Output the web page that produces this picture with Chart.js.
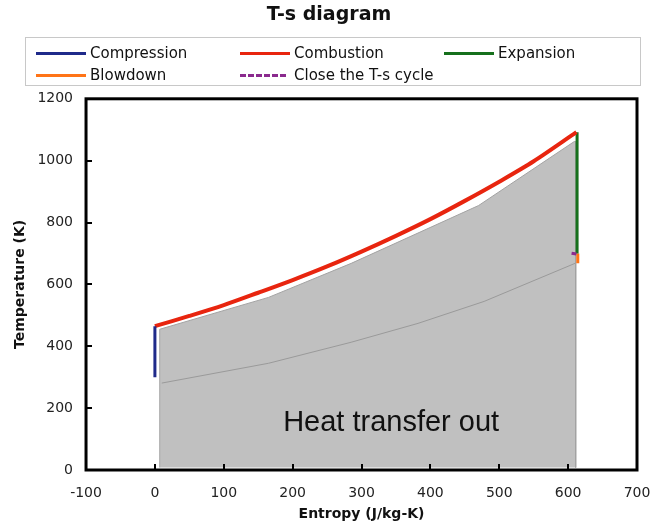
<!DOCTYPE html>
<html>
<head>
<meta charset="utf-8">
<script src="https://cdn.jsdelivr.net/npm/chart.js@4/dist/chart.umd.min.js"></script>
<style>
  html, body { margin: 0; padding: 0; background: #fff; }
  #wrap { position: relative; width: 652px; height: 525px; }
  #legend { position: absolute; left: 25px; top: 37px; width: 616px; height: 49px;
    border: 1px solid #c8c8c8; box-sizing: border-box; font-family: "DejaVu Sans", Verdana, sans-serif;
    font-size: 15px; color: #111; }
  .item { position: absolute; height: 20px; line-height: 20px; white-space: nowrap; }
  .sw { position: absolute; left: 0; top: 9px; width: 50px; height: 0; }
  .lbl { position: absolute; left: 54px; top: 0; }
</style>
</head>
<body>
<div id="wrap">
  <canvas id="c" width="652" height="525"></canvas>
  <div id="legend"></div>
</div>
<script>
// ---- data (entropy s in J/kg-K, temperature T in K) ----
const compressionS = [0, 0];
const compressionT = [300, 465];

const combustionS = [0, 50, 100, 150, 200, 250, 300, 350, 400, 450, 500, 550, 612];
const combustionT = [465, 498, 533, 573, 614, 658, 706, 757, 811, 870, 932, 998, 1092];

const expansionS = [613, 613];
const expansionT = [1092, 700];

const blowdownS = [614, 614];
const blowdownT = [700, 668];

const closeS = [605, 612];
const closeT = [701, 698];

// "Heat transfer out" shaded region outline
const heatOutS = [7, 7, 165, 285, 470, 609, 611, 611];
const heatOutT = [8, 455, 558, 668, 855, 1062, 1062, 8];

// lower (constant-volume) line inside the shaded region
const lowerS = [10, 165, 285, 382, 478, 610];
const lowerT = [281, 345, 413, 474, 545, 668];

const xTicks = [-100, 0, 100, 200, 300, 400, 500, 600, 700];
const yTicks = [0, 200, 400, 600, 800, 1000, 1200];

const seriesNames = ["Compression", "Combustion", "Expansion", "Blowdown", "Close the T-s cycle"];
const seriesColors = ["#1f2a8a", "#e8250f", "#16701c", "#ff7417", "#8b2a8e"];

function pts(xs, ys) { return xs.map((x, i) => ({ x: x, y: ys[i] })); }

// ---- HTML legend ----
const legendPos = [[10, 5], [214, 5], [418, 5], [10, 27], [214, 27]];
const legendEl = document.getElementById('legend');
seriesNames.forEach((n, i) => {
  const it = document.createElement('div');
  it.className = 'item';
  it.style.left = legendPos[i][0] + 'px';
  it.style.top = legendPos[i][1] + 'px';
  const sw = document.createElement('div');
  sw.className = 'sw';
  if (i === 4) {
    sw.style.borderTop = '3px dashed ' + seriesColors[i];
    sw.style.width = '46px';
  } else {
    sw.style.borderTop = '3px solid ' + seriesColors[i];
  }
  const lb = document.createElement('span');
  lb.className = 'lbl';
  lb.textContent = n;
  it.appendChild(sw); it.appendChild(lb);
  legendEl.appendChild(it);
});

const FONT = '"DejaVu Sans", Verdana, sans-serif';

const framePlugin = {
  id: 'frame',
  afterDatasetsDraw(chart) {
    const { ctx, chartArea: a, scales } = chart;
    ctx.save();
    // heat transfer label
    ctx.fillStyle = '#111';
    ctx.font = '29px "Liberation Sans", Arial, sans-serif';
    ctx.textAlign = 'center';
    ctx.textBaseline = 'middle';
    ctx.fillText('Heat transfer out', scales.x.getPixelForValue(343), scales.y.getPixelForValue(152));
    // inward tick marks
    ctx.strokeStyle = '#000';
    ctx.lineWidth = 2;
    xTicks.forEach(v => {
      const px = Math.round(scales.x.getPixelForValue(v));
      ctx.beginPath(); ctx.moveTo(px, a.bottom); ctx.lineTo(px, a.bottom - 6); ctx.stroke();
    });
    yTicks.forEach(v => {
      const py = Math.round(scales.y.getPixelForValue(v));
      ctx.beginPath(); ctx.moveTo(a.left, py); ctx.lineTo(a.left + 6, py); ctx.stroke();
    });
    // frame
    ctx.lineWidth = 3;
    ctx.strokeRect(a.left, a.top, a.right - a.left, a.bottom - a.top);
    ctx.restore();
  }
};

new Chart(document.getElementById('c'), {
  type: 'scatter',
  data: {
    datasets: [
      { label: 'heat out', data: pts(heatOutS, heatOutT), showLine: true, tension: 0,
        borderColor: '#a3a3a3', borderWidth: 1, backgroundColor: '#c0c0c0',
        fill: { value: 8 }, pointRadius: 0, order: 10 },
      { label: 'lower', data: pts(lowerS, lowerT), showLine: true, tension: 0,
        borderColor: '#9a9a9a', borderWidth: 1, pointRadius: 0, fill: false, order: 9 },
      { label: seriesNames[0], data: pts(compressionS, compressionT), showLine: true,
        borderColor: seriesColors[0], borderWidth: 3, pointRadius: 0, fill: false, order: 1 },
      { label: seriesNames[1], data: pts(combustionS, combustionT), showLine: true, tension: 0.3,
        borderColor: seriesColors[1], borderWidth: 4, pointRadius: 0, fill: false, order: 1 },
      { label: seriesNames[2], data: pts(expansionS, expansionT), showLine: true,
        borderColor: seriesColors[2], borderWidth: 3, pointRadius: 0, fill: false, order: 1 },
      { label: seriesNames[3], data: pts(blowdownS, blowdownT), showLine: true,
        borderColor: seriesColors[3], borderWidth: 3, pointRadius: 0, fill: false, order: 1 },
      { label: seriesNames[4], data: pts(closeS, closeT), showLine: true,
        borderColor: seriesColors[4], borderWidth: 3, borderDash: [5, 4], pointRadius: 0, fill: false, order: 0 }
    ]
  },
  options: {
    responsive: false,
    animation: false,
    devicePixelRatio: 1,
    layout: { padding: { left: 8, right: 2, top: 0, bottom: 0 } },
    plugins: {
      legend: { display: false },
      tooltip: { enabled: false },
      title: { display: true, text: 'T-s diagram', color: '#111',
        font: { family: FONT, size: 19, weight: 'bold' }, padding: { top: 4, bottom: 72 } }
    },
    scales: {
      x: { type: 'linear', min: -100, max: 700,
        afterBuildTicks: s => { s.ticks = xTicks.map(v => ({ value: v })); },
        afterFit: s => { s.paddingRight = 15; },
        grid: { display: false, drawTicks: false }, border: { display: false },
        ticks: { color: '#222', font: { family: FONT, size: 14 }, padding: 14.5, callback: v => String(v) },
        title: { display: true, text: 'Entropy (J/kg-K)', color: '#111',
          font: { family: FONT, size: 14, weight: 'bold' }, padding: { top: -9.6, bottom: 2 } } },
      y: { type: 'linear', min: 0, max: 1200,
        afterBuildTicks: s => { s.ticks = yTicks.map(v => ({ value: v })); },
        grid: { display: false, drawTicks: false }, border: { display: false },
        ticks: { color: '#222', font: { family: FONT, size: 14 }, padding: 13, callback: v => String(v) },
        title: { display: true, text: 'Temperature (K)', color: '#111',
          font: { family: FONT, size: 14, weight: 'bold' }, padding: { top: 3.6, bottom: -4 } } }
    }
  },
  plugins: [framePlugin]
});
</script>
</body>
</html>
